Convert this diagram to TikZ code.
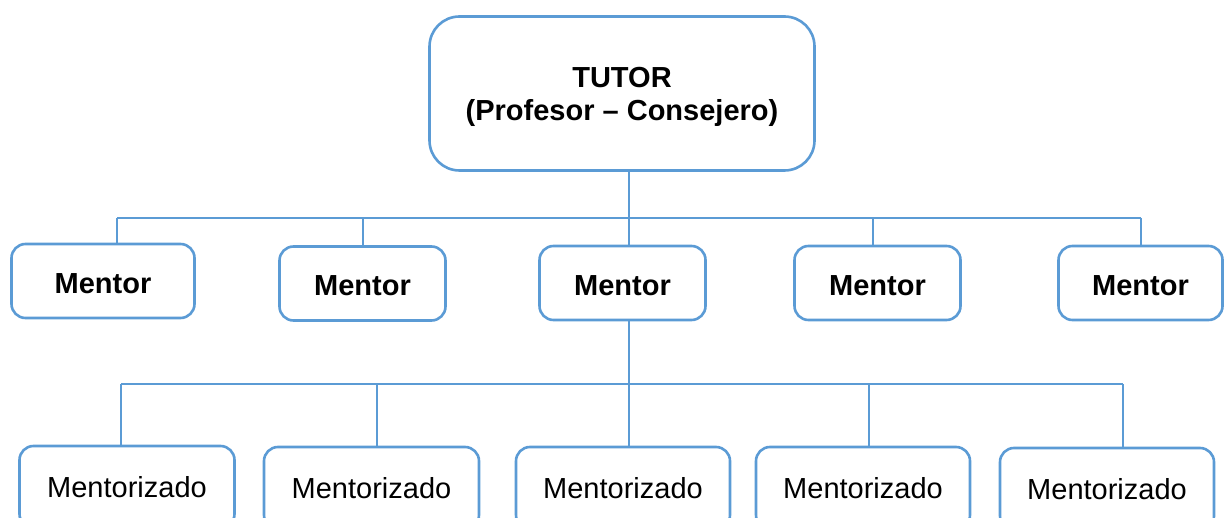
\documentclass[tikz,border=0pt]{standalone}
\usepackage{fontspec}
\setmainfont{Liberation Sans}
\definecolor{bl}{HTML}{5B9BD5}
\begin{document}
\begin{tikzpicture}[x=1pt,y=-1pt,
 box/.style={draw=bl, line width=2.6pt, rounded corners=14pt, fill=white, inner sep=0pt, align=center, font=\fontsize{29}{33}\selectfont},
 mentorbox/.style={box, minimum width=166pt, minimum height=74pt, text height=25pt, text depth=0pt, font=\bfseries\fontsize{29}{33}\selectfont},
 menteebox/.style={box, minimum width=215pt, minimum height=82pt},
 conn/.style={draw=bl, line width=1.3pt}]
\useasboundingbox (0,0) rectangle (1225,518);
\begin{scope}
\clip (0,0) rectangle (1225,518);
% bus coordinates
\coordinate (b1) at (117,218);
\coordinate (b2) at (363,218);
\coordinate (b3) at (629,218);
\coordinate (b4) at (873,218);
\coordinate (b5) at (1141,218);
\coordinate (c1) at (121,384);
\coordinate (c2) at (377,384);
\coordinate (c3) at (629,384);
\coordinate (c4) at (869,384);
\coordinate (c5) at (1123,384);
% nodes
\node[box, rounded corners=30pt, minimum width=385pt, minimum height=154pt, font=\bfseries\fontsize{29}{33}\selectfont] (tutor) at (622,93.5) {\raisebox{-3.5pt}[\height][\depth]{\begin{tabular}{@{}c@{}}TUTOR\\(Profesor – Consejero)\end{tabular}}};
\node[mentorbox, minimum width=183pt] (m1) at (103,281) {Mentor};
\node[mentorbox] (m2) at (362.5,283.5) {Mentor};
\node[mentorbox] (m3) at (622.5,283) {Mentor};
\node[mentorbox] (m4) at (877.5,283) {Mentor};
\node[mentorbox, minimum width=164pt] (m5) at (1140.5,283) {Mentor};
\node[menteebox] (z1) at (127,487) {Mentorizado};
\node[menteebox] (z2) at (371.5,488) {Mentorizado};
\node[menteebox, minimum width=214pt] (z3) at (623,488) {Mentorizado};
\node[menteebox, minimum width=214pt] (z4) at (863,488) {Mentorizado};
\node[menteebox, minimum width=214pt] (z5) at (1107,489) {Mentorizado};
% connectors
\draw[conn] (tutor.south -| b3) -- (b3);
\draw[conn] (b1) -- (b5);
\draw[conn] (b1) -- (b1 |- m1.north);
\draw[conn] (b2) -- (b2 |- m2.north);
\draw[conn] (b3) -- (b3 |- m3.north);
\draw[conn] (b4) -- (b4 |- m4.north);
\draw[conn] (b5) -- (b5 |- m5.north);
\draw[conn] (m3.south -| c3) -- (c3);
\draw[conn] (c1) -- (c5);
\draw[conn] (c1) -- (c1 |- z1.north);
\draw[conn] (c2) -- (c2 |- z2.north);
\draw[conn] (c3) -- (c3 |- z3.north);
\draw[conn] (c4) -- (c4 |- z4.north);
\draw[conn] (c5) -- (c5 |- z5.north);
\end{scope}
\end{tikzpicture}
\end{document}
